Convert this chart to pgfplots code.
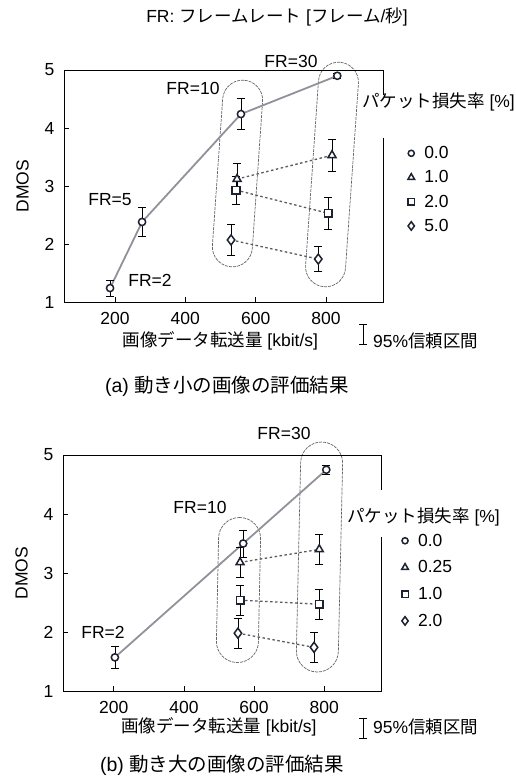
\documentclass[border=0pt]{standalone}
\usepackage{fontspec}
\setmainfont{Liberation Sans}
\newfontfamily\jp{Noto Sans CJK JP}
\usepackage{pgfplots}
\usepackage{pgfplotstable}
\pgfplotsset{compat=1.18}
\definecolor{mk}{RGB}{28,34,48}
\definecolor{ln}{RGB}{145,145,155}
\definecolor{dl}{RGB}{90,90,100}
\definecolor{el}{RGB}{100,100,105}
\newcommand\fs{\fontsize{17.5}{21}\selectfont}
\newcommand\fc{\fontsize{19.5}{23}\selectfont}

% (a) low motion
\pgfplotstableread{
x y e
186 1.24 0.14
277 2.38 0.25
558 4.24 0.27
832 4.90 0.04
}\aA
\pgfplotstableread{
x y e
547 3.12 0.27
817 3.53 0.27
}\aB
\pgfplotstableread{
x y e
544 2.93 0.24
806 2.53 0.27
}\aC
\pgfplotstableread{
x y e
530 2.07 0.27
778 1.74 0.22
}\aD
% (b) high motion
\pgfplotstableread{
x y e
203 1.57 0.19
569 3.50 0.23
806 4.75 0.07
}\bA
\pgfplotstableread{
x y e
560 3.18 0.25
786 3.40 0.26
}\bB
\pgfplotstableread{
x y e
560 2.54 0.25
786 2.47 0.25
}\bC
\pgfplotstableread{
x y e
554 1.98 0.25
771 1.74 0.25
}\bD

\pgfplotsset{
  dmos/.style={
    scale only axis,
    xmin=55, xmax=962, ymin=1, ymax=5,
    xtick={200,400,600,800}, ytick={1,2,3,4,5},
    tick align=inside, xtick pos=bottom, ytick pos=left,
    major tick length=5pt,
    tick style={black, line width=0.7pt},
    axis line style={line width=0.9pt},
    /pgf/number format/assume math mode=true,
    ticklabel style={font=\fs},
    xticklabel style={yshift=-7pt},
    yticklabel style={xshift=-6pt},
    label style={font=\fs},
    ylabel style={at={(axis description cs:-0.13,0.5)}, anchor=center},
    legend cell align=left,
    legend style={draw=none, fill=none, font=\fs, inner sep=0pt,
      row sep=6.5pt, nodes={inner sep=2pt}},
    legend image code/.code={\path[draw=none, fill=none] (0pt,-3pt) rectangle (18pt,3pt);
      \draw[##1, every mark/.append style={scale=0.85}] plot coordinates {(7pt,0pt)};},
  },
  mline/.style={ln, line width=1.8pt, forget plot},
  dline/.style={dl, line width=1.3pt, dash pattern=on 2.5pt off 2.5pt, forget plot},
  eb/.style={error bars/.cd, y dir=both, y explicit,
    error bar style={line width=0.7pt, black},
    error mark options={rotate=90, mark size=4pt, line width=0.7pt, black}},
  m0/.style={only marks, mark=*, mark size=3.6pt, mark options={line width=1.5pt, draw=mk, fill=white}, eb},
  m1/.style={only marks, mark=triangle*, mark size=4.6pt, mark options={line width=1.5pt, draw=mk, fill=white}, eb},
  m2/.style={only marks, mark=square*, mark size=3.8pt, mark options={line width=1.5pt, draw=mk, fill=white}, eb},
  m3/.style={only marks, mark=diamond*, mark size=5pt, mark options={line width=1.5pt, draw=mk, fill=white}, eb},
}

\begin{document}
\begin{tikzpicture}
\useasboundingbox (0pt,0pt) rectangle (516pt,-781pt);
\tikzset{grp/.style={draw=el, line width=0.7pt, dash pattern=on 3pt off 1pt, rounded corners=19.9pt, minimum width=40pt, inner sep=0pt}}
% group outlines
\node[grp, minimum height=187pt, rotate=-4] at (237.5pt,-173.5pt) {};
\node[grp, minimum height=225pt, rotate=-4] at (332pt,-174.5pt) {};
\node[grp, minimum width=42pt, rounded corners=20.9pt, minimum height=145pt, rotate=-1.2] at (238.5pt,-590pt) {};
\node[grp, minimum width=42pt, rounded corners=20.9pt, minimum height=230pt, rotate=-1.3] at (319.5pt,-557pt) {};

% ---------- (a) ----------
\begin{axis}[dmos, width=319pt, height=232pt, at={(64pt,-302pt)}, anchor=south west,
  xlabel={{\jp 画像データ転送量} [kbit/s]},
  xlabel style={at={(axis description cs:0.49,-0.168)}, anchor=center},
  ylabel={DMOS},
  legend style={at={(axis description cs:1.066,0.68)}, anchor=north west}]
\addplot[mline] table[x=x,y=y] {\aA};
\addplot[dline] table[x=x,y=y] {\aB};
\addplot[dline] table[x=x,y=y] {\aC};
\addplot[dline] table[x=x,y=y] {\aD};
\addplot[m0] table[x=x,y=y,y error=e] {\aA};
\addplot[m1] table[x=x,y=y,y error=e] {\aB};
\addplot[m2] table[x=x,y=y,y error=e] {\aC};
\addplot[m3] table[x=x,y=y,y error=e] {\aD};
\legend{0.0,1.0,2.0,5.0}
\end{axis}

% ---------- (b) ----------
\begin{axis}[dmos, width=318pt, height=236pt, at={(63pt,-691pt)}, anchor=south west,
  xlabel={{\jp 画像データ転送量} [kbit/s]},
  xlabel style={at={(axis description cs:0.49,-0.153)}, anchor=center},
  ylabel={DMOS},
  legend style={at={(axis description cs:1.053,0.675)}, anchor=north west, row sep=9pt}]
\addplot[mline] table[x=x,y=y] {\bA};
\addplot[dline] table[x=x,y=y] {\bB};
\addplot[dline] table[x=x,y=y] {\bC};
\addplot[dline] table[x=x,y=y] {\bD};
\addplot[m0] table[x=x,y=y,y error=e] {\bA};
\addplot[m1] table[x=x,y=y,y error=e] {\bB};
\addplot[m2] table[x=x,y=y,y error=e] {\bC};
\addplot[m3] table[x=x,y=y,y error=e] {\bD};
\legend{0.0,0.25,1.0,2.0}
\end{axis}

% gaps in right axis lines behind legend titles
\fill[white] (376pt,-95pt) rectangle (390pt,-138pt);
\fill[white] (374pt,-490pt) rectangle (388pt,-537pt);

% texts (a)
\node[font=\fs] at (277pt,-17pt) {FR: {\jp フレームレート} [{\jp フレーム}/{\jp 秒}]};
\node[font=\fs] at (291pt,-61pt) {FR=30};
\node[font=\fs] at (193pt,-88pt) {FR=10};
\node[font=\fs] at (110pt,-200pt) {FR=5};
\node[font=\fs] at (150pt,-280pt) {FR=2};
\node[font=\fs, anchor=west, inner sep=0pt] at (362pt,-102pt) {{\jp パケット損失率} [\%]};
\draw[line width=0.7pt] (363pt,-324pt) -- (363pt,-344pt) (359pt,-324pt) -- (367pt,-324pt) (359pt,-344pt) -- (367pt,-344pt);
\node[font=\fs, anchor=west, inner sep=0pt] at (373pt,-341pt) {95\%{\jp 信頼区間}};
\node[font=\fc] at (227pt,-386pt) {(a) {\jp 動き小の画像の評価結果}};

% texts (b)
\node[font=\fs] at (284pt,-433pt) {FR=30};
\node[font=\fs] at (200pt,-507pt) {FR=10};
\node[font=\fs] at (103pt,-632pt) {FR=2};
\node[font=\fs, anchor=west, inner sep=0pt] at (347pt,-517pt) {{\jp パケット損失率} [\%]};
\draw[line width=0.7pt] (363pt,-718pt) -- (363pt,-738pt) (359pt,-718pt) -- (367pt,-718pt) (359pt,-738pt) -- (367pt,-738pt);
\node[font=\fs, anchor=west, inner sep=0pt] at (373pt,-727pt) {95\%{\jp 信頼区間}};
\node[font=\fc] at (222pt,-765pt) {(b) {\jp 動き大の画像の評価結果}};
\end{tikzpicture}
\end{document}
